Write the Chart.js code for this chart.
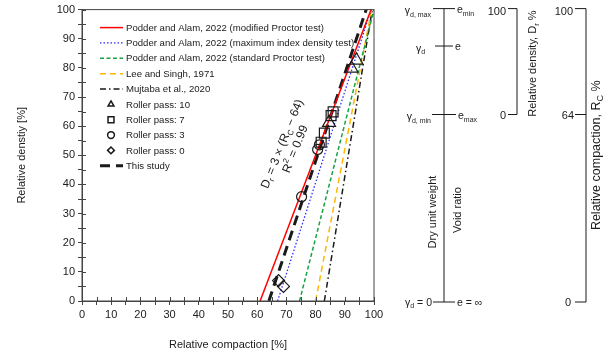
<!DOCTYPE html>
<html>
<head>
<meta charset="utf-8">
<script src="https://cdn.jsdelivr.net/npm/chart.js@4.4.0/dist/chart.umd.min.js"></script>
<style>
  html, body { margin: 0; padding: 0; background: #fff; }
</style>
</head>
<body>
<canvas id="chart" width="610" height="360"></canvas>
<script>
const FONT = '"Liberation Sans", Arial, Helvetica, sans-serif';
const INK = '#1a1a1a';

// relationships: relative compaction (x) vs relative density (y), two end points each
const modifiedRc = [61, 99],    modifiedDr = [0, 100];
const maxIndexRc = [67, 99],    maxIndexDr = [0, 100];
const standardRc = [74.5, 100], standardDr = [0, 100];
const leeRc = [80, 99.2],       leeDr = [0, 100];
const mujtabaRc = [83, 99.4],   mujtabaDr = [0, 100];
const studyRc = [64, 97.33],    studyDr = [0, 100];

// field points per roller pass
const pass10Rc = [84.6, 92.3, 94.0], pass10Dr = [61.2, 79.8, 82.6];
const pass7Rc = [81.9, 83.0, 85.3, 86.0], pass7Dr = [54.5, 57.6, 63.6, 64.9];
const pass3Rc = [75.2, 80.7, 81.3], pass3Dr = [35.8, 52.0, 53.6];
const pass0Rc = [67.3, 69.0], pass0Dr = [7.0, 5.0];

const legendLabels = [
  'Podder and Alam, 2022 (modified Proctor test)',
  'Podder and Alam, 2022 (maximum index density test)',
  'Podder and Alam, 2022 (standard Proctor test)',
  'Lee and Singh, 1971',
  'Mujtaba et al., 2020',
  'Roller pass: 10',
  'Roller pass: 7',
  'Roller pass: 3',
  'Roller pass: 0',
  'This study'
];

const xTicks = [0, 10, 20, 30, 40, 50, 60, 70, 80, 90, 100];
const yTicks = [0, 10, 20, 30, 40, 50, 60, 70, 80, 90, 100];

function pts(xs, ys) {
  return xs.map((x, i) => ({ x: x, y: ys[i] }));
}

function lineSet(label, xs, ys, color, width, dash) {
  return {
    label: label, data: pts(xs, ys), showLine: true, borderColor: color,
    borderWidth: width, borderDash: dash, pointRadius: 0, order: 2, kind: 'line'
  };
}

function markSet(label, xs, ys, style, radius) {
  return {
    label: label, data: pts(xs, ys), showLine: false, pointStyle: style,
    pointRadius: radius, pointBorderWidth: 1.2, pointBorderColor: INK,
    pointBackgroundColor: 'rgba(0,0,0,0)', order: 1, kind: 'mark'
  };
}

const datasets = [
  lineSet(legendLabels[0], modifiedRc, modifiedDr, '#ff0000', 1.5, []),
  lineSet(legendLabels[1], maxIndexRc, maxIndexDr, '#2b2bff', 1.3, [1.5, 2]),
  lineSet(legendLabels[2], standardRc, standardDr, '#17a340', 1.5, [4, 2.5]),
  lineSet(legendLabels[3], leeRc, leeDr, '#ffb700', 1.5, [6, 4]),
  lineSet(legendLabels[4], mujtabaRc, mujtabaDr, INK, 1.5, [6, 3, 1.5, 3]),
  markSet(legendLabels[5], pass10Rc, pass10Dr, 'triangle', 7.5),
  markSet(legendLabels[6], pass7Rc, pass7Dr, 'rect', 7),
  markSet(legendLabels[7], pass3Rc, pass3Dr, 'circle', 5),
  markSet(legendLabels[8], pass0Rc, pass0Dr, 'rectRot', 6),
  lineSet(legendLabels[9], studyRc, studyDr, INK, 3, [10, 6])
];

// text with sub / superscripts: parts = [[text, 0 normal | 1 sub | 2 sup]]
function rich(ctx, parts, x, y, size, align) {
  const fontFor = k => (k ? Math.round(size * 0.7) : size) + 'px ' + FONT;
  let w = 0;
  parts.forEach(p => { ctx.font = fontFor(p[1]); w += ctx.measureText(p[0]).width; });
  let cx = align === 'right' ? x - w : align === 'center' ? x - w / 2 : x;
  ctx.textAlign = 'left';
  ctx.textBaseline = 'middle';
  parts.forEach(p => {
    ctx.font = fontFor(p[1]);
    const dy = p[1] === 1 ? size * 0.3 : p[1] === 2 ? -size * 0.35 : 0;
    ctx.fillText(p[0], cx, y + dy);
    cx += ctx.measureText(p[0]).width;
  });
}

function seg(ctx, x1, y1, x2, y2) {
  ctx.beginPath();
  ctx.moveTo(x1, y1);
  ctx.lineTo(x2, y2);
  ctx.stroke();
}

const extras = {
  id: 'extras',
  afterDatasetsDraw(chart) {
    const ctx = chart.ctx;
    const a = chart.chartArea;
    const xs = chart.scales.x, ys = chart.scales.y;
    ctx.save();
    ctx.strokeStyle = '#444';
    ctx.lineWidth = 1;
    ctx.setLineDash([]);
    ctx.strokeRect(a.left, a.top, a.right - a.left, a.bottom - a.top);
    // inward halves of the ticks
    for (let v = 0; v <= 100; v += 5) {
      const px = Math.round(xs.getPixelForValue(v)) + 0.5;
      seg(ctx, px, a.bottom, px, a.bottom - 4);
      const py = Math.round(ys.getPixelForValue(v)) + 0.5;
      seg(ctx, a.left, py, a.left + 4, py);
    }

    // legend
    ctx.fillStyle = INK;
    const lx = a.left + 18, ly = a.top + 18, step = 15.35;
    datasets.forEach((d, i) => {
      const y = ly + i * step;
      if (d.kind === 'line') {
        ctx.strokeStyle = d.borderColor;
        ctx.lineWidth = d.borderWidth;
        ctx.setLineDash(d.borderDash);
        seg(ctx, lx, y, lx + 23, y);
        ctx.setLineDash([]);
      } else {
        ctx.strokeStyle = INK;
        ctx.fillStyle = 'rgba(0,0,0,0)';
        ctx.lineWidth = 1.5;
        Chart.helpers.drawPoint(ctx, { pointStyle: d.pointStyle, radius: d.pointStyle === 'rect' ? 4.2 : 3.4, borderWidth: 1.5, rotation: 0 }, lx + 11, y);
      }
      ctx.fillStyle = INK;
      ctx.font = '9.6px ' + FONT;
      ctx.textAlign = 'left';
      ctx.textBaseline = 'middle';
      ctx.fillText(legendLabels[i], lx + 26, y + 0.5);
    });

    // fitted relation label
    ctx.save();
    ctx.translate(xs.getPixelForValue(70.9), ys.getPixelForValue(53));
    ctx.rotate(-68 * Math.PI / 180);
    ctx.fillStyle = INK;
    rich(ctx, [['D', 0], ['r', 1], [' = 3 \u00d7 (R', 0], ['C', 1], [' \u2212 64)', 0]], 0, -7, 12, 'center');
    rich(ctx, [['R', 0], ['2', 2], [' = 0.99', 0]], 0, 7, 12, 'center');
    ctx.restore();

    // schematic on the right
    const rowTop = ys.getPixelForValue(100) - 1;
    const rowE = ys.getPixelForValue(87.5);
    const rowMin = ys.getPixelForValue(64);
    const rowZero = ys.getPixelForValue(0) + 1;
    const vx = a.right + 70;
    ctx.strokeStyle = INK;
    ctx.lineWidth = 1;
    seg(ctx, vx, rowTop, vx, rowZero);
    seg(ctx, vx - 11, rowTop, vx + 11, rowTop);
    seg(ctx, vx - 9, rowE, vx + 9, rowE);
    seg(ctx, vx - 12, rowMin, vx + 12, rowMin);
    seg(ctx, vx - 11, rowZero, vx + 11, rowZero);
    ctx.fillStyle = INK;
    const ls = 10.5;
    rich(ctx, [['\u03b3', 0], ['d, max', 1]], vx - 13, rowTop + 3, ls, 'right');
    rich(ctx, [['\u03b3', 0], ['d', 1]], vx - 28, rowE + 3, ls, 'left');
    rich(ctx, [['\u03b3', 0], ['d, min', 1]], vx - 13, rowMin + 3, ls, 'right');
    rich(ctx, [['\u03b3', 0], ['d', 1], [' = 0', 0]], vx - 12, rowZero + 1, ls, 'right');
    rich(ctx, [['e', 0], ['min', 1]], vx + 13, rowTop + 2, ls, 'left');
    rich(ctx, [['e', 0]], vx + 11, rowE + 1, ls, 'left');
    rich(ctx, [['e', 0], ['max', 1]], vx + 14, rowMin + 2, ls, 'left');
    rich(ctx, [['e = \u221e', 0]], vx + 13, rowZero + 1, ls, 'left');

    // relative density bracket
    const b1 = a.right + 143;
    seg(ctx, b1 - 9, rowTop, b1, rowTop);
    seg(ctx, b1, rowTop, b1, rowMin);
    seg(ctx, b1 - 9, rowMin, b1, rowMin);
    rich(ctx, [['100', 0]], b1 - 11, rowTop + 3, 11, 'right');
    rich(ctx, [['0', 0]], b1 - 11, rowMin + 1, 11, 'right');

    // relative compaction bracket
    const b2 = a.right + 212;
    seg(ctx, b2 - 11, rowTop, b2, rowTop);
    seg(ctx, b2, rowTop, b2, rowZero);
    seg(ctx, b2 - 11, rowMin, b2, rowMin);
    seg(ctx, b2 - 11, rowZero, b2, rowZero);
    rich(ctx, [['100', 0]], b2 - 13, rowTop + 3, 11, 'right');
    rich(ctx, [['64', 0]], b2 - 12, rowMin + 1, 11, 'right');
    rich(ctx, [['0', 0]], b2 - 15, rowZero + 1, 11, 'right');

    // vertical captions
    const vtext = (parts, x, y, size) => {
      ctx.save();
      ctx.translate(x, y);
      ctx.rotate(-Math.PI / 2);
      rich(ctx, parts, 0, 0, size, 'center');
      ctx.restore();
    };
    vtext([['Relative density, D', 0], ['r', 1], [' %', 0]], b1 + 16, (rowTop + rowMin) / 2 + 2, 11);
    vtext([['Relative compaction, R', 0], ['C', 1], [' %', 0]], b2 + 11, (rowTop + rowZero) / 2, 12.5);
    vtext([['Dry unit weight', 0]], vx - 11, 212, 11);
    vtext([['Void ratio', 0]], vx + 14, 210, 11);
    ctx.restore();
  }
};

new Chart(document.getElementById('chart'), {
  type: 'scatter',
  data: { datasets: datasets },
  options: {
    responsive: false,
    animation: false,
    devicePixelRatio: 1,
    layout: { padding: { left: 0, right: 236, top: 8, bottom: 0 } },
    plugins: { legend: { display: false }, tooltip: { enabled: false } },
    scales: {
      x: {
        type: 'linear', min: 0, max: 100,
        afterBuildTicks: s => { s.ticks = []; for (let v = 0; v <= 100; v += 5) s.ticks.push({ value: v }); },
        ticks: {
          autoSkip: false, maxRotation: 0, padding: 3, color: INK,
          font: { family: FONT, size: 11 },
          callback: v => (xTicks.includes(v) ? String(v) : '')
        },
        grid: { drawOnChartArea: false, tickLength: 4, color: '#444' },
        border: { color: '#444' },
        title: {
          display: true, text: 'Relative compaction [%]', color: INK,
          font: { family: FONT, size: 11 }, padding: { top: 8, bottom: 8 }
        },
        afterFit: s => { s.height = 59; }
      },
      y: {
        type: 'linear', min: 0, max: 100,
        afterBuildTicks: s => { s.ticks = []; for (let v = 0; v <= 100; v += 5) s.ticks.push({ value: v }); },
        ticks: {
          autoSkip: false, padding: 3, color: INK,
          font: { family: FONT, size: 11 },
          callback: v => (yTicks.includes(v) ? String(v) : '')
        },
        grid: { drawOnChartArea: false, tickLength: 4, color: '#444' },
        border: { color: '#444' },
        title: {
          display: true, text: 'Relative denstiy [%]', color: INK,
          font: { family: FONT, size: 11 }, padding: { top: 15, bottom: 15 }
        },
        afterFit: s => { s.width = 82; }
      }
    }
  },
  plugins: [extras]
});
</script>
</body>
</html>
